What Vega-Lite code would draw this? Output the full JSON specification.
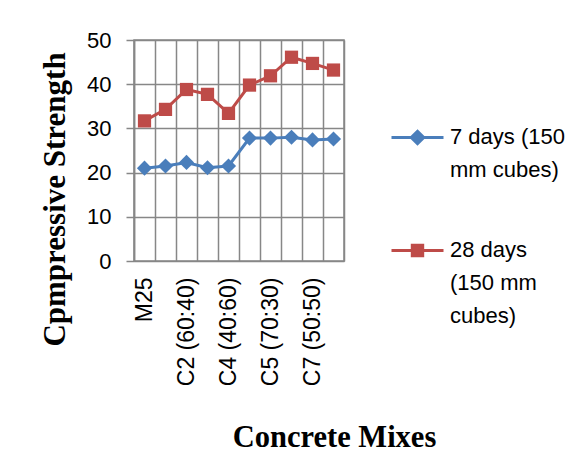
{
  "$schema": "https://vega.github.io/schema/vega-lite/v6.json",
  "width": 210,
  "height": 221,
  "autosize": {"type": "none"},
  "padding": {"left": 134, "top": 40, "right": 235, "bottom": 195},
  "background": "white",
  "config": {
    "view": {"stroke": "#878787", "strokeWidth": 1.5},
    "axis": {"gridColor": "#878787", "gridWidth": 1.5, "gridOpacity": 1, "labelColor": "black", "labelFont": "Liberation Sans", "titleColor": "black", "titleFont": "Liberation Serif", "titleFontWeight": "bold"}
  },
  "data": {
    "values": [
      {"mix": "M25", "series": "7 days (150 mm cubes)", "value": 21.0},
      {"mix": "C1 (80:20)", "series": "7 days (150 mm cubes)", "value": 21.5},
      {"mix": "C2 (60:40)", "series": "7 days (150 mm cubes)", "value": 22.3},
      {"mix": "C3 (50:50)", "series": "7 days (150 mm cubes)", "value": 21.1},
      {"mix": "C4 (40:60)", "series": "7 days (150 mm cubes)", "value": 21.5},
      {"mix": "C4 (30:70)", "series": "7 days (150 mm cubes)", "value": 27.8},
      {"mix": "C5 (70:30)", "series": "7 days (150 mm cubes)", "value": 27.8},
      {"mix": "C6 (60:40)", "series": "7 days (150 mm cubes)", "value": 28.0},
      {"mix": "C7 (50:50)", "series": "7 days (150 mm cubes)", "value": 27.4},
      {"mix": "C8 (40:60)", "series": "7 days (150 mm cubes)", "value": 27.6},
      {"mix": "M25", "series": "28 days (150 mm cubes)", "value": 31.7},
      {"mix": "C1 (80:20)", "series": "28 days (150 mm cubes)", "value": 34.3},
      {"mix": "C2 (60:40)", "series": "28 days (150 mm cubes)", "value": 38.8},
      {"mix": "C3 (50:50)", "series": "28 days (150 mm cubes)", "value": 37.7},
      {"mix": "C4 (40:60)", "series": "28 days (150 mm cubes)", "value": 33.4},
      {"mix": "C4 (30:70)", "series": "28 days (150 mm cubes)", "value": 39.8},
      {"mix": "C5 (70:30)", "series": "28 days (150 mm cubes)", "value": 41.9},
      {"mix": "C6 (60:40)", "series": "28 days (150 mm cubes)", "value": 46.1},
      {"mix": "C7 (50:50)", "series": "28 days (150 mm cubes)", "value": 44.7},
      {"mix": "C8 (40:60)", "series": "28 days (150 mm cubes)", "value": 43.2}
    ]
  },
  "encoding": {
    "x": {
      "field": "mix",
      "type": "ordinal",
      "sort": null,
      "bandPosition": 0.5,
      "scale": {"type": "band", "paddingInner": 0, "paddingOuter": 0},
      "axis": {
        "title": "Concrete Mixes",
        "titleFontSize": 30.5,
        "titleX": 200,
        "titleY": 176,
        "titleAlign": "center",
        "titleBaseline": "middle",
        "labelAngle": -90,
        "labelFontSize": 23,
        "labelPadding": 16,
        "labelOverlap": false,
        "labelExpr": "indexof(['M25','C2 (60:40)','C4 (40:60)','C5 (70:30)','C7 (50:50)'], datum.value) >= 0 ? datum.value : ''",
        "tickBand": "extent",
        "ticks": false,
        "domain": false,
        "grid": true
      }
    },
    "y": {
      "field": "value",
      "type": "quantitative",
      "scale": {"domain": [0, 50]},
      "axis": {
        "title": "Cpmpressive Strength",
        "titleFontSize": 31,
        "titleX": -79,
        "titleY": 159,
        "titleAlign": "center",
        "titleBaseline": "middle",
        "values": [0, 10, 20, 30, 40, 50],
        "labelFontSize": 22,
        "labelPadding": 15,
        "tickSize": 8,
        "tickColor": "#878787",
        "tickWidth": 1.5,
        "domainColor": "#878787",
        "domainWidth": 1.5,
        "grid": true
      }
    },
    "color": {
      "field": "series",
      "type": "nominal",
      "sort": ["7 days (150 mm cubes)", "28 days (150 mm cubes)"],
      "scale": {"domain": ["7 days (150 mm cubes)", "28 days (150 mm cubes)"], "range": ["#4A7EBB", "#BE4B48"]},
      "legend": {
        "title": null,
        "orient": "none",
        "legendX": 256,
        "legendY": 70,
        "symbolSize": 2704,
        "symbolStrokeWidth": 3,
        "labelFont": "Liberation Sans",
        "labelFontSize": 22,
        "labelColor": "black",
        "labelOffset": 5,
        "labelBaseline": "top",
        "labelLimit": 300,
        "rowPadding": 42,
        "labelExpr": "datum.label == '7 days (150 mm cubes)' ? ['7 days (150', 'mm cubes)'] : ['28 days', '(150 mm', 'cubes)']",
        "encode": {
          "symbols": {
            "update": {
              "shape": {"signal": "datum.value == '7 days (150 mm cubes)' ? 'M-1,0H1M0,-0.24L0.24,0L0,0.24L-0.24,0Z' : 'M-1,0H1M-0.2,-0.2H0.2V0.2H-0.2Z'"},
              "fill": {"scale": "color", "field": "value"},
              "stroke": {"scale": "color", "field": "value"},
              "strokeWidth": {"value": 3},
              "opacity": {"value": 1}
            }
          },
          "labels": {
            "update": {"lineHeight": {"value": 33}, "dy": {"value": -11}}
          }
        }
      }
    }
  },
  "layer": [
    {"mark": {"type": "line", "strokeWidth": 3}},
    {
      "transform": [{"filter": "datum.series == '7 days (150 mm cubes)'"}],
      "mark": {"type": "point", "shape": "diamond", "size": 230, "filled": true, "opacity": 1}
    },
    {
      "transform": [{"filter": "datum.series == '28 days (150 mm cubes)'"}],
      "mark": {"type": "point", "shape": "square", "size": 175, "filled": true, "opacity": 1}
    }
  ]
}
